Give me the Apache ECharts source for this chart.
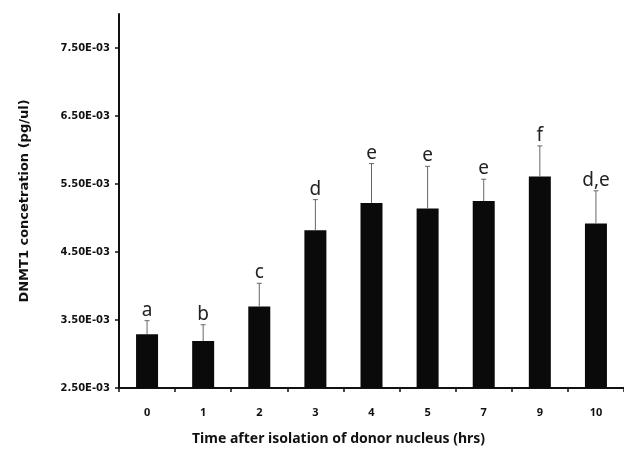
<!DOCTYPE html>
<html>
<head>
<meta charset="utf-8">
<script src="https://cdn.jsdelivr.net/npm/echarts@6/dist/echarts.min.js"></script>
<style>
  html, body { margin: 0; padding: 0; background: #fff; }
  #chart { width: 624px; height: 453px; }
</style>
</head>
<body>
<div id="chart"></div>
<script>
// 横轴：供体核分离后的时间
const hours = ['0', '1', '2', '3', '4', '5', '7', '9', '10']
// DNMT1 浓度均值 (pg/ul)
const means = [3.29e-3, 3.19e-3, 3.70e-3, 4.82e-3, 5.22e-3, 5.14e-3, 5.25e-3, 5.61e-3, 4.92e-3]
// 误差（只画上半）
const errors = [0.20e-3, 0.24e-3, 0.34e-3, 0.45e-3, 0.58e-3, 0.62e-3, 0.32e-3, 0.45e-3, 0.48e-3]
// 显著性字母
const letters = ['a', 'b', 'c', 'd', 'e', 'e', 'e', 'f', 'd,e']
// 纵轴刻度
const yTicks = [2.5e-3, 3.5e-3, 4.5e-3, 5.5e-3, 6.5e-3, 7.5e-3]
const yTickLabels = ['2.50E-03', '3.50E-03', '4.50E-03', '5.50E-03', '6.50E-03', '7.50E-03']

const font = '"Noto Sans", "DejaVu Sans", sans-serif'
const wideFont = '"DejaVu Sans", sans-serif'

const chart = echarts.init(document.getElementById('chart'))

chart.setOption({
  animation: false,
  backgroundColor: '#fff',
  grid: {
    left: 119,
    top: 14,
    width: 515,
    height: 374
  },
  graphic: [
    {
      type: 'text',
      left: 192,
      top: 432,
      style: {
        text: 'Time after isolation of donor nucleus (hrs)',
        font: 'bold 14px ' + font,
        fill: '#111'
      }
    }
  ],
  xAxis: {
    type: 'category',
    data: hours,
    axisLine: { lineStyle: { color: '#111', width: 2 } },
    axisTick: { show: true, length: 4, lineStyle: { color: '#111', width: 1.5 } },
    axisLabel: {
      margin: 19,
      color: '#111',
      fontFamily: font,
      fontWeight: 'bold',
      fontSize: 11
    }
  },
  yAxis: {
    type: 'value',
    min: 2.5e-3,
    max: 8.0e-3,
    interval: 0.5e-3,
    name: 'DNMT1 concetration (pg/ul)',
    nameLocation: 'middle',
    nameGap: 88,
    nameTextStyle: {
      color: '#111',
      fontFamily: wideFont,
      fontWeight: 'bold',
      fontSize: 13
    },
    splitLine: { show: false },
    axisLine: { show: true, lineStyle: { color: '#111', width: 2 } },
    axisTick: {
      show: true,
      length: 4,
      customValues: yTicks,
      lineStyle: { color: '#111', width: 1.5 }
    },
    axisLabel: {
      customValues: yTicks,
      margin: 9,
      color: '#111',
      fontFamily: wideFont,
      fontWeight: 'bold',
      fontSize: 10,
      formatter: function (v) {
        let idx = yTicks.findIndex(t => Math.abs(t - v) < 1e-9)
        return idx >= 0 ? yTickLabels[idx] : ''
      }
    }
  },
  series: [
    {
      type: 'bar',
      data: means,
      barWidth: 22,
      itemStyle: { color: '#0a0a0a' }
    },
    {
      type: 'custom',
      data: means.map((m, i) => [i, m, errors[i]]),
      z: 3,
      renderItem: function (params, api) {
        let x = api.coord([api.value(0), api.value(1)])[0]
        let yBar = api.coord([api.value(0), api.value(1)])[1]
        let yTop = api.coord([api.value(0), api.value(1) + api.value(2)])[1]
        return {
          type: 'group',
          children: [
            {
              type: 'line',
              shape: { x1: x, y1: yBar, x2: x, y2: yTop },
              style: { stroke: '#666', lineWidth: 1 }
            },
            {
              type: 'line',
              shape: { x1: x - 2.5, y1: yTop, x2: x + 2.5, y2: yTop },
              style: { stroke: '#666', lineWidth: 1 }
            },
            {
              type: 'text',
              x: x,
              y: yTop - 1,
              style: {
                text: letters[params.dataIndex],
                font: '19px ' + font,
                fill: '#222',
                align: 'center',
                verticalAlign: 'bottom'
              }
            }
          ]
        }
      }
    }
  ]
})
</script>
</body>
</html>
